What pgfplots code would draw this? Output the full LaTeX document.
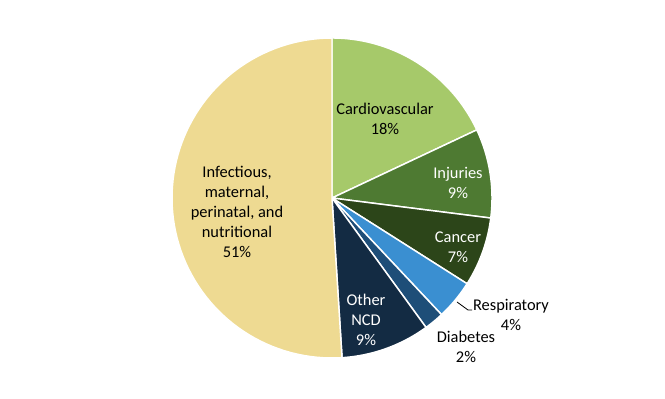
\documentclass[border=0pt]{standalone}
\usepackage{pgfplots}
\pgfplotsset{compat=1.18}
\usepackage{fontspec}
\setmainfont{Carlito}
\definecolor{cardio}{HTML}{A6C96A}
\definecolor{injur}{HTML}{4E7A32}
\definecolor{cancer}{HTML}{2C4519}
\definecolor{resp}{HTML}{3A8FD1}
\definecolor{diab}{HTML}{1E4E78}
\definecolor{ncd}{HTML}{132B43}
\definecolor{infect}{HTML}{EEDA92}
\begin{document}
\begin{tikzpicture}
\begin{axis}[scale only axis, width=498.75pt, height=299.25pt,
  xmin=0, xmax=665, ymin=0, ymax=399, hide axis, clip=false,
  every axis plot/.append style={draw=white, line width=1.1pt, samples=80, no markers}]
\path (axis cs:0,0) rectangle (axis cs:665,399);
% slices: shares (percent) 18, 9, 7, 4, 2, 9, 51, stacked clockwise from the top
\addplot[fill=cardio, domain=0:18]  ({332+160*sin(3.6*x)},{201+160*cos(3.6*x)}) -- (axis cs:332,201) -- cycle;
\addplot[fill=injur,  domain=18:27] ({332+160*sin(3.6*x)},{201+160*cos(3.6*x)}) -- (axis cs:332,201) -- cycle;
\addplot[fill=cancer, domain=27:34] ({332+160*sin(3.6*x)},{201+160*cos(3.6*x)}) -- (axis cs:332,201) -- cycle;
\addplot[fill=resp,   domain=34:38] ({332+160*sin(3.6*x)},{201+160*cos(3.6*x)}) -- (axis cs:332,201) -- cycle;
\addplot[fill=diab,   domain=38:40] ({332+160*sin(3.6*x)},{201+160*cos(3.6*x)}) -- (axis cs:332,201) -- cycle;
\addplot[fill=ncd,    domain=40:49] ({332+160*sin(3.6*x)},{201+160*cos(3.6*x)}) -- (axis cs:332,201) -- cycle;
\addplot[fill=infect, domain=49:100]({332+160*sin(3.6*x)},{201+160*cos(3.6*x)}) -- (axis cs:332,201) -- cycle;
\tikzset{lbl/.style={align=center, font=\fontsize{12.3}{15}\selectfont, inner sep=0pt}}
\node[lbl, text=black] at (axis cs:385,280) {Cardiovascular\\18\%};
\node[lbl, text=white] at (axis cs:458,216) {Injuries\\9\%};
\node[lbl, text=white] at (axis cs:458,152) {Cancer\\7\%};
\node[lbl, text=black] at (axis cs:511,84) {Respiratory\\4\%};
\node[lbl, text=black] at (axis cs:466,52) {Diabetes\\2\%};
\node[lbl, text=white] at (axis cs:366,79) {Other\\NCD\\9\%};
\node[lbl, text=black] at (axis cs:237,187) {Infectious,\\maternal,\\perinatal, and\\nutritional\\51\%};
\draw[black, line width=0.6pt] (axis cs:457,97) -- (axis cs:468,89) -- (axis cs:472,89);
\end{axis}
\end{tikzpicture}
\end{document}
